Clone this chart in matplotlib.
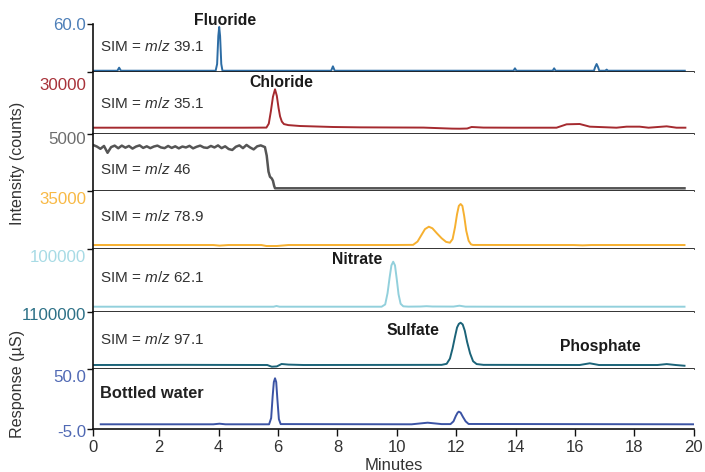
import matplotlib
matplotlib.use("Agg")
import matplotlib.pyplot as plt

plt.rcParams['font.family'] = ['Liberation Sans', 'DejaVu Sans']
plt.rcParams['mathtext.fontset'] = 'custom'
plt.rcParams['mathtext.rm'] = 'Liberation Sans'
plt.rcParams['mathtext.it'] = 'Liberation Sans:italic'

# --- data (minutes, signal) ---
# SIM m/z 39.1 (fluoride)
t_f = [-0.22, 0.59, 0.65, 0.71, 3.90, 3.95, 3.99, 4.02, 4.05, 4.09, 4.13, 7.79, 7.85, 7.91,
       13.93, 13.98, 14.03, 15.25, 15.30, 15.35, 16.64, 16.68, 16.73, 16.78, 16.82, 17.02, 17.07, 17.11, 19.70]
y_f = [1.6, 1.6, 5.4, 1.6, 1.6, 10, 45, 56.3, 45, 10, 1.6, 1.6, 7.1, 1.6,
       1.6, 4.6, 1.6, 1.6, 4.6, 1.6, 1.6, 6, 10, 6, 1.6, 1.6, 3, 1.6, 1.6]

# SIM m/z 35.1 (chloride)
t_cl = [-0.22, 1.80, 3.82, 4.84, 5.61, 5.69, 5.76, 5.83, 5.90, 5.96, 6.02, 6.07, 6.13, 6.20, 6.35, 6.74, 7.85, 8.76,
        9.89, 10.90, 11.86, 12.11, 12.37, 12.52, 12.92, 13.93, 15.38, 15.72, 16.16, 16.50, 16.96, 17.40, 17.74,
        18.18, 18.48, 19.09, 19.42, 19.72]
y_cl = [3050, 3050, 3050, 3050, 3100, 5000, 11000, 18000, 21630, 18500, 12500, 8500, 6000, 4800, 4300, 3870, 3390, 3220,
        3150, 3100, 2600, 2560, 2650, 3390, 3100, 3050, 3050, 4690, 4840, 3550, 3300, 3050, 3550,
        3550, 3050, 3710, 3050, 3050]

# SIM m/z 46
t_46 = [-0.22, -0.10, 0.02, 0.14, 0.26, 0.38, 0.50, 0.62, 0.74, 0.86, 0.98, 1.10, 1.22, 1.34, 1.46, 1.58,
        1.70, 1.82, 1.94, 2.06, 2.18, 2.30, 2.42, 2.54, 2.66, 2.78, 2.90, 3.02, 3.14, 3.26, 3.38, 3.50,
        3.62, 3.74, 3.86, 3.98, 4.10, 4.22, 4.34, 4.46, 4.58, 4.70, 4.82, 4.94, 5.06, 5.18, 5.30, 5.42,
        5.56, 5.62, 5.68, 5.73, 5.79, 5.83, 5.87, 5.90, 19.69]
y_46 = [4030, 3900, 3700, 3950, 3350, 3850, 3980, 3750, 3980, 3800, 3950, 3720, 3900, 4000, 3780, 3920,
        3760, 3900, 3980, 3820, 3760, 3950, 3780, 3920, 3740, 3900, 3820, 3960, 3740, 3880, 3980, 3820,
        3780, 3950, 3820, 4000, 3760, 3920, 3680, 3600, 3880, 4000, 3760, 4040, 3820, 3650, 3920, 4000,
        3850, 3100, 1700, 1250, 1100, 900, 450, 237, 237]

# SIM m/z 78.9
t_79 = [-0.22, 1.80, 3.82, 4.03, 4.33, 5.44, 5.61, 5.96, 6.35, 7.87, 9.89, 10.55, 10.70, 10.85, 10.95, 11.08, 11.20,
        11.35, 11.51, 11.66, 11.79, 11.88, 11.96, 12.03, 12.09, 12.15, 12.21, 12.27, 12.34, 12.42, 12.50, 12.57,
        13.93, 15.95, 16.26, 16.56, 17.98, 19.69]
y_79 = [2410, 2410, 2410, 2050, 2410, 2410, 1810, 1810, 2410, 2410, 2410, 2500, 4500, 9000, 12000, 13450, 12500,
        9500, 6500, 4300, 3800, 6000, 13000, 21000, 26000, 27150, 26000, 20000, 11000, 5000, 2800, 2450,
        2410, 2410, 2210, 2410, 2410, 2410]

# SIM m/z 62.1 (nitrate)
t_62 = [-0.22, 3.82, 5.85, 5.95, 6.05, 9.49, 9.61, 9.69, 9.76, 9.82, 9.88, 9.94, 10.00, 10.06, 10.13, 10.22, 10.39,
        10.80, 11.00, 11.20, 11.91, 12.11, 12.31, 13.93, 19.69]
y_62 = [8410, 8410, 8410, 9500, 8410, 8410, 12000, 30000, 55000, 74000, 79800, 74000, 52000, 28000, 13000, 9000, 8500,
        8700, 9200, 8700, 8600, 10000, 8500, 8410, 8410]

# SIM m/z 97.1 (sulfate, phosphate)
t_97 = [-0.22, 2.81, 5.64, 5.79, 5.96, 6.12, 6.35, 6.86, 11.51, 11.68, 11.79, 11.88, 11.96, 12.03, 12.09, 12.15, 12.22,
        12.29, 12.37, 12.47, 12.57, 12.69, 12.92, 16.16, 16.50, 16.81, 18.78, 19.09, 19.39, 19.69]
y_97 = [77200, 80000, 77200, 44000, 50000, 96500, 85000, 77200, 80000, 100000, 200000, 400000, 620000, 800000, 870000,
        893000, 860000, 740000, 520000, 300000, 150000, 95000, 80000, 77200, 110000, 77200, 77200, 95000, 77200, 63000]

# conductivity, bottled water
t_cd = [0.03, 3.82, 4.03, 4.23, 5.70, 5.77, 5.82, 5.86, 5.90, 5.94, 5.98, 6.03, 6.09, 10.50, 11.04, 11.51, 11.81,
        11.91, 11.99, 12.05, 12.09, 12.15, 12.23, 12.32, 12.42, 19.99]
y_cd = [-0.69, -0.69, -0.14, -0.69, -0.69, 5, 25, 38, 41.5, 38, 22, 4, -0.5, -0.69, 0.78, -0.5, -0.5,
        2, 7, 10, 10.9, 10, 6, 2, -0.4, -0.69]

times = [t_f, t_cl, t_46, t_79, t_62, t_97, t_cd]
signals = [y_f, y_cl, y_46, y_79, y_62, y_97, y_cd]
top_labels = ['60.0', '30000', '5000', '35000', '100000', '1100000', '50.0']
sim_labels = ['SIM = $m/z$ 39.1', 'SIM = $m/z$ 35.1', 'SIM = $m/z$ 46', 'SIM = $m/z$ 78.9',
              'SIM = $m/z$ 62.1', 'SIM = $m/z$ 97.1', 'Bottled water']
ylims = [(0, 60), (0, 30000), (0, 5000), (0, 35000), (0, 100000), (0, 1100000), (-5, 50)]
x_ticks = [2, 4, 6, 8, 10, 12, 14, 16, 18, 20]

line_colors = ['#2c6ca4', '#a52a2f', '#555555', '#f6b030', '#92d0dc', '#1b6378', '#3b53a4']
label_colors = ['#4d7fb8', '#a8323a', '#6d6d6d', '#f8b945', '#a8dbe5', '#2d7187', '#5069b4']

# layout in pixels (panel boundaries)
W, H = 705, 472
edges = [24, 72, 134, 191, 249, 312, 369, 429]
x0, x1 = 93.3, 693.7
xmin = -0.22
lab_off = [1, 14, 6, 8, 8, 3, 9]
sim_y = [0.53, 0.5, 0.37, 0.56, 0.54, 0.51, 0.6]

fig = plt.figure(figsize=(W / 100, H / 100), dpi=100)
axes = []
for i in range(7):
    top, bot = edges[i], edges[i + 1]
    ax = fig.add_axes([x0 / W, 1 - bot / H, (x1 - x0) / W, (bot - top) / H])
    ax.plot(times[i], signals[i], color=line_colors[i], lw=1.4 if i != 2 else 1.8, solid_joinstyle='round')
    ax.set_xlim(xmin, 20)
    ax.set_ylim(*ylims[i])
    for s in ['top', 'right']:
        ax.spines[s].set_visible(False)
    for s in ['left', 'bottom']:
        ax.spines[s].set_linewidth(1.2)
        ax.spines[s].set_color('#111111')
    if i == 6:
        ax.set_yticks([ylims[i][0], ylims[i][1]])
    else:
        ax.set_yticks([ylims[i][1]])
    ax.set_yticklabels([''] * len(ax.get_yticks()))
    ax.tick_params(axis='y', length=4, width=1, color='#111111')
    ax.annotate(top_labels[i], xy=(0, 1), xycoords='axes fraction', xytext=(-5, -lab_off[i] * 0.72),
                textcoords='offset points', ha='right', va='center', color=label_colors[i], fontsize=12.2)
    tr = ax.get_xaxis_transform()
    if i == 6:
        ax.text(0.0, sim_y[i], sim_labels[i], transform=tr, fontsize=11.8,
                fontweight='bold', color='#222222', va='center')
    else:
        ax.text(0.0, sim_y[i], sim_labels[i], transform=tr, fontsize=11,
                color='#333333', va='center')
    if i < 6:
        ax.set_xticks([])
    axes.append(ax)

axes[6].annotate('-5.0', xy=(0, 0), xycoords='axes fraction', xytext=(-5, -2.2),
                 textcoords='offset points', ha='right', va='center', color=label_colors[6], fontsize=12.2)
# the "0" tick sits on the left spine
axes[6].set_xticks([xmin] + x_ticks)
axes[6].set_xticklabels(['0'] + [str(v) for v in x_ticks])
axes[6].tick_params(axis='x', length=5, width=1, color='#111111', labelsize=12, labelcolor='#333333', pad=3)
axes[6].set_xlabel('Minutes', fontsize=12, color='#333333', labelpad=2)

# compound names
bold = dict(fontsize=11.3, fontweight='bold', color='#1a1a1a', ha='center', va='center')
axes[0].text(4.23, 1.08, 'Fluoride', transform=axes[0].get_xaxis_transform(), clip_on=False, **bold)
axes[1].text(6.11, 0.83, 'Chloride', transform=axes[1].get_xaxis_transform(), **bold)
axes[4].text(8.67, 0.84, 'Nitrate', transform=axes[4].get_xaxis_transform(), **bold)
axes[5].text(10.53, 0.68, 'Sulfate', transform=axes[5].get_xaxis_transform(), **bold)
axes[5].text(16.87, 0.40, 'Phosphate', transform=axes[5].get_xaxis_transform(), **bold)

fig.text(18 / W, 1 - 163 / H, 'Intensity (counts)', rotation=90, ha='center', va='center',
         fontsize=11.6, color='#333333')
fig.text(18 / W, 1 - 384 / H, 'Response (µS)', rotation=90, ha='center', va='center',
         fontsize=11.6, color='#333333')

fig.savefig('out.png', dpi=100)
